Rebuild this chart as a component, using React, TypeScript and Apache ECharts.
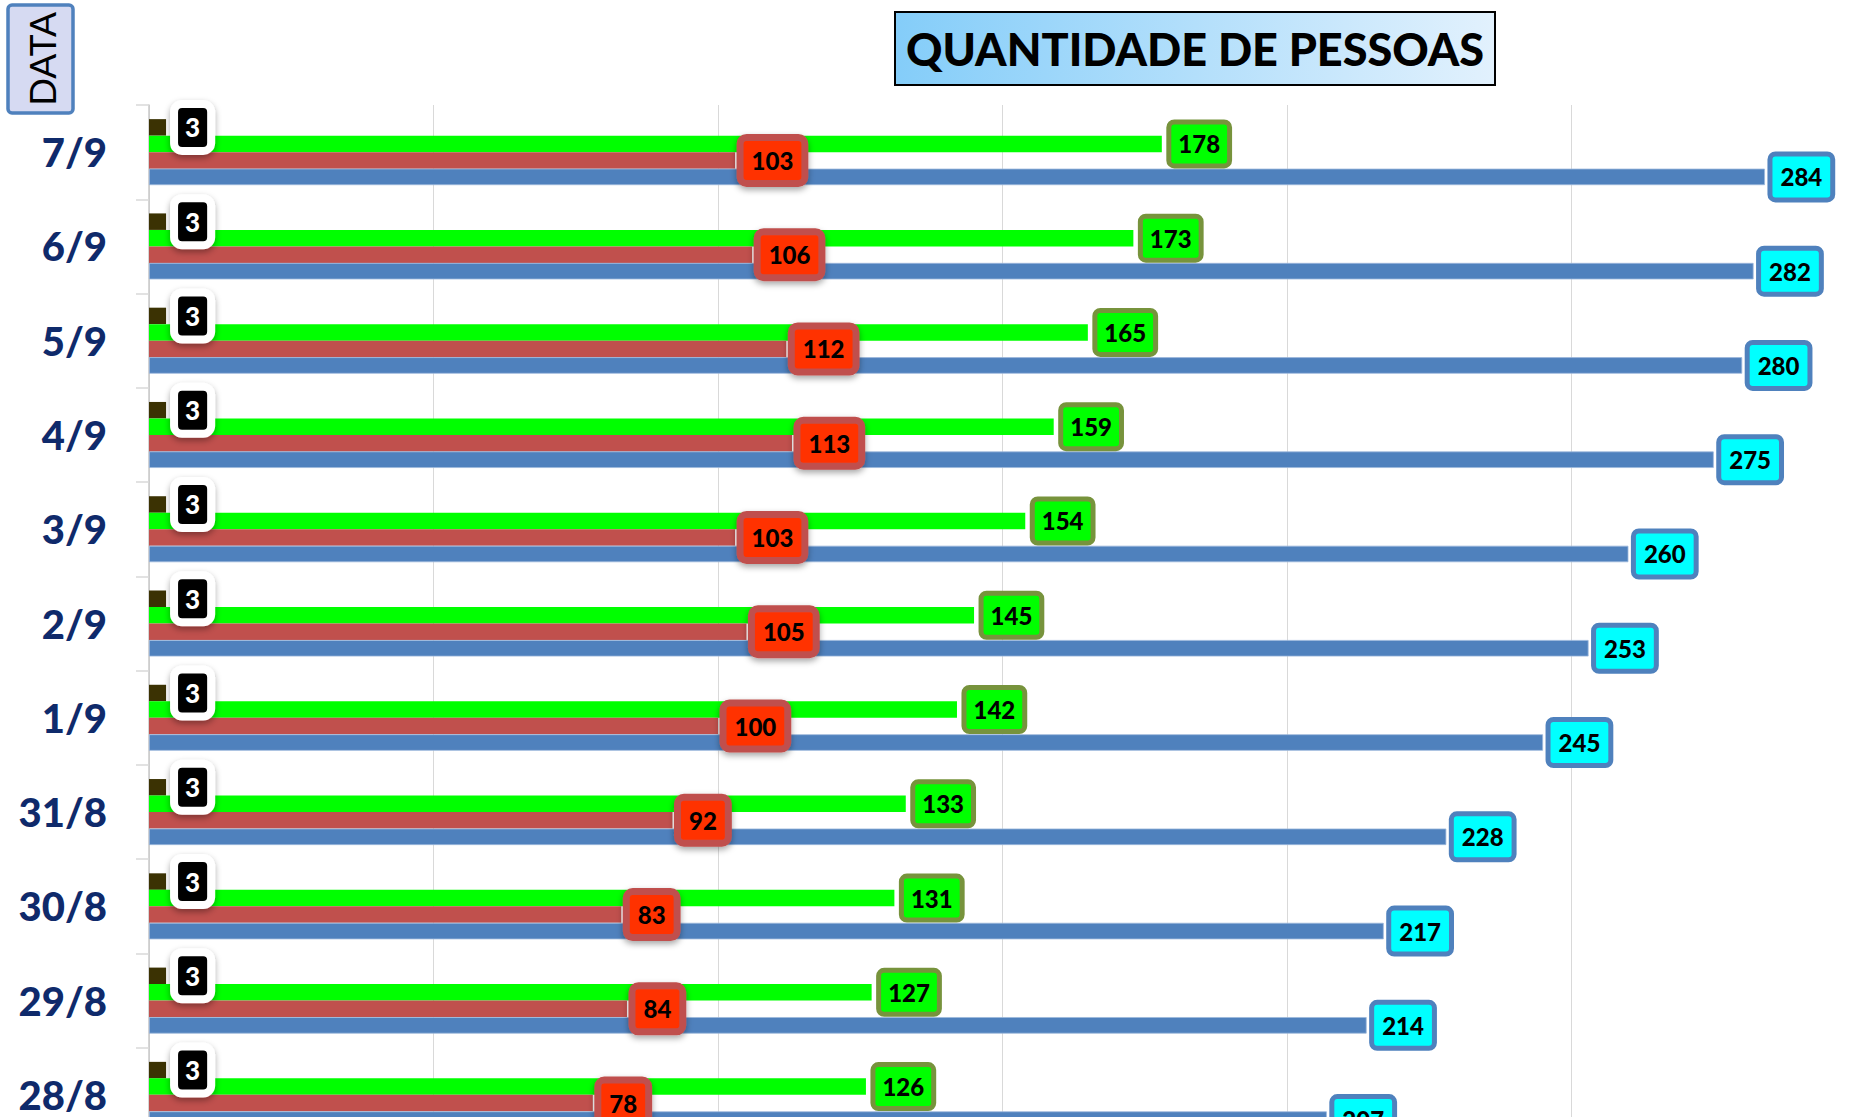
import React, { useEffect, useRef } from 'react';
import * as echarts from 'echarts';

const categories = ['28/8', '29/8', '30/8', '31/8', '1/9', '2/9', '3/9', '4/9', '5/9', '6/9', '7/9'];
const obitos = [3, 3, 3, 3, 3, 3, 3, 3, 3, 3, 3];
const recuperados = [126, 127, 131, 133, 142, 145, 154, 159, 165, 173, 178];
const ativos = [78, 84, 83, 92, 100, 105, 103, 113, 112, 106, 103];
const confirmados = [207, 214, 217, 228, 245, 253, 260, 275, 280, 282, 284];
const titleText = 'QUANTIDADE DE PESSOAS';
const axisTitle = 'DATA';

const FONT = 'Lato, "Open Sans", sans-serif';

export default function App() {
  const ref = useRef<HTMLDivElement>(null);

  useEffect(() => {
    if (!ref.current) return;
    const chart = echarts.init(ref.current, undefined, { renderer: 'svg' });
    const baseLabel = {
      show: true,
      position: 'right',
      fontFamily: FONT,
      fontSize: 24,
      fontWeight: 900,
      color: '#000',
      lineHeight: 27,
      borderRadius: 3,
    };
    const option: any = {
      animation: false,
      textStyle: { fontFamily: FONT },
      grid: { left: 149, top: 105, width: 1707, height: 1037, containLabel: false },
      xAxis: {
        type: 'value',
        min: 0,
        max: 300,
        interval: 50,
        axisLabel: { show: false },
        axisLine: { show: false },
        axisTick: { show: false },
        splitLine: { show: true, lineStyle: { color: '#D9D9D9', width: 1 } },
      },
      yAxis: {
        type: 'category',
        data: categories,
        axisLine: { show: true, lineStyle: { color: '#C8C8C8', width: 1.5 } },
        axisTick: { show: true, length: 13, lineStyle: { color: '#D9D9D9', width: 1.5 } },
        axisLabel: {
          fontFamily: FONT,
          fontSize: 40,
          fontWeight: 900,
          color: '#0F2A6B',
          margin: 42,
        },
      },
      series: [
        {
          name: 'Óbitos',
          type: 'bar',
          data: obitos,
          barWidth: 16.5,
          barGap: '0%',
          itemStyle: { color: '#3B3203' },
          label: {
            show: true,
            position: 'right',
            distance: 12,
            fontFamily: FONT,
            fontSize: 26,
            fontWeight: 900,
            color: '#fff',
            lineHeight: 27,
            backgroundColor: '#000',
            borderColor: '#fff',
            borderWidth: 8,
            padding: [6, 7],
            borderRadius: 4,
            shadowBlur: 6,
            shadowOffsetY: 3,
            shadowColor: 'rgba(0,0,0,0.35)',
          },
        },
        {
          name: 'Recuperados',
          type: 'bar',
          data: recuperados,
          barWidth: 16.5,
          barGap: '0%',
          itemStyle: { color: '#00FF00' },
          label: {
            ...baseLabel,
            distance: 9.5,
            backgroundColor: '#00FF00',
            borderColor: '#77933C',
            borderWidth: 5,
            padding: [6, 7],
          },
        },
        {
          name: 'Ativos',
          type: 'bar',
          data: ativos,
          barWidth: 16.5,
          barGap: '0%',
          itemStyle: { color: '#C0504D' },
          label: {
            ...baseLabel,
            distance: 8.5,
            backgroundColor: '#FF3300',
            borderColor: '#C0504D',
            borderWidth: 7,
            padding: [6, 8],
            shadowBlur: 6,
            shadowOffsetY: 3,
            shadowColor: 'rgba(0,0,0,0.35)',
          },
        },
        {
          name: 'Confirmados',
          type: 'bar',
          data: confirmados,
          barWidth: 16.5,
          barGap: '0%',
          itemStyle: { color: '#4F81BD', borderColor: '#9CB8DC', borderWidth: 0.8 },
          label: {
            ...baseLabel,
            distance: 7.5,
            backgroundColor: '#00FFFF',
            borderColor: '#4F81BD',
            borderWidth: 5,
            padding: [7, 8],
          },
        },
      ],
      graphic: [
        {
          type: 'rect',
          shape: { x: 895, y: 12, width: 600, height: 73 },
          style: {
            fill: new echarts.graphic.LinearGradient(0, 0, 1, 0, [
              { offset: 0, color: '#84CDF9' },
              { offset: 1, color: '#E2F1FD' },
            ]),
            stroke: '#000',
            lineWidth: 2,
          },
        },
        {
          type: 'text',
          x: 1195,
          y: 49,
          style: {
            text: titleText,
            fill: '#000',
            fontFamily: FONT,
            fontSize: 45,
            fontWeight: 900,
            align: 'center',
            verticalAlign: 'middle',
            textAlign: 'center',
            textVerticalAlign: 'middle',
          },
        },
        {
          type: 'rect',
          shape: { x: 8, y: 5, width: 65, height: 108, r: 4 },
          style: { fill: '#D6DAF2', stroke: '#4F81BD', lineWidth: 3.5 },
        },
        {
          type: 'text',
          x: 41,
          y: 59,
          rotation: Math.PI / 2,
          style: {
            text: axisTitle,
            fill: '#000',
            fontFamily: FONT,
            fontSize: 37,
            align: 'center',
            verticalAlign: 'middle',
            textAlign: 'center',
            textVerticalAlign: 'middle',
          },
        },
      ],
    };
    chart.setOption(option);
    return () => chart.dispose();
  }, []);

  return (
    <div
      ref={ref}
      style={{ position: 'fixed', left: 0, top: 0, width: 1900, height: 1200, background: '#fff' }}
    />
  );
}
